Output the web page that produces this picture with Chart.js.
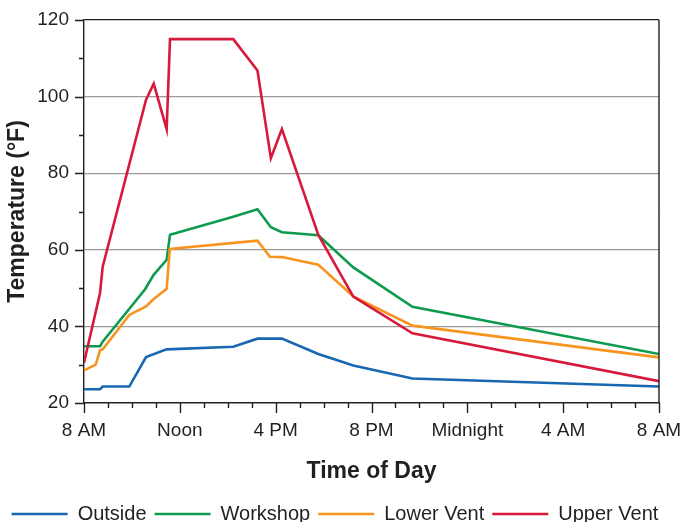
<!DOCTYPE html>
<html>
<head>
<meta charset="utf-8">
<script src="https://cdn.jsdelivr.net/npm/chart.js@4/dist/chart.umd.min.js"></script>
<style>
  html, body { margin: 0; padding: 0; background: #ffffff; }
  #wrap { width: 684px; height: 522px; }
</style>
</head>
<body>
<div id="wrap"><canvas id="c" width="684" height="522"></canvas></div>
<script>
// ---- data (hours after 8 AM, temperature °F) ----
const xTickLabels = ['8 AM', 'Noon', '4 PM', '8 PM', 'Midnight', '4 AM', '8 AM'];
const seriesNames = ['Outside', 'Workshop', 'Lower Vent', 'Upper Vent'];

const outsideHours = [0, 0.67, 0.78, 1.89, 2.59, 3.45, 6.23, 7.24, 8.26, 9.78, 11.24, 13.71, 24];
const outsideTemps = [23.6, 23.6, 24.3, 24.3, 32.0, 34.0, 34.7, 36.8, 36.8, 32.8, 29.8, 26.4, 24.3];

const workshopHours = [0, 0.67, 0.78, 2.55, 2.9, 3.45, 3.59, 6.23, 7.24, 7.8, 8.26, 9.78, 11.24, 13.71, 24];
const workshopTemps = [34.8, 34.8, 36.0, 49.7, 53.4, 57.4, 63.9, 68.6, 70.6, 65.9, 64.6, 63.8, 55.4, 45.1, 32.8];

const lowerVentHours = [0, 0.49, 0.67, 0.78, 1.89, 2.59, 2.9, 3.45, 3.58, 7.24, 7.76, 8.26, 9.78, 11.24, 13.71, 24];
const lowerVentTemps = [28.5, 30.0, 33.8, 34.0, 43.0, 45.2, 47.1, 49.8, 60.2, 62.4, 58.2, 58.1, 56.1, 47.8, 40.2, 31.9];

const upperVentHours = [0, 0.67, 0.78, 2.59, 2.91, 3.45, 3.59, 6.23, 7.24, 7.8, 8.26, 9.78, 11.24, 13.71, 24];
const upperVentTemps = [30.5, 48.7, 55.6, 99.2, 103.4, 91.5, 115, 115, 106.8, 83.9, 91.5, 63.9, 47.8, 38.2, 25.7];

// ---- styling ----
const colors = ['#1767b2', '#0e9a4f', '#f7941e', '#d7193b'];
const textColor = '#231f20';
const clear = 'rgba(0,0,0,0)';
const fontFamily = "'Liberation Sans', Arial, sans-serif";
const PAD_BOTTOM = -12;

function pts(xs, ys) { return xs.map((x, i) => ({ x: x, y: ys[i] })); }

const allHours = [outsideHours, workshopHours, lowerVentHours, upperVentHours];
const allTemps = [outsideTemps, workshopTemps, lowerVentTemps, upperVentTemps];
const drawOrder = [4, 3, 2, 1];

const datasets = seriesNames.map((name, i) => ({
  label: name,
  data: pts(allHours[i], allTemps[i]),
  borderColor: colors[i],
  backgroundColor: colors[i],
  borderWidth: 2.6,
  pointRadius: 0,
  tension: 0,
  fill: false,
  order: drawOrder[i]
}));

// tick marks (major + minor) and right frame, drawn through the chart's scales
const frameTicks = {
  id: 'frameTicks',
  afterDraw(chart) {
    const { ctx, chartArea, scales } = chart;
    const xs = scales.x, ys = scales.y;
    ctx.save();
    ctx.strokeStyle = textColor;
    ctx.lineWidth = 1.4;
    ctx.beginPath();
    for (let h = 0; h <= 24; h++) {
      const px = Math.round(xs.getPixelForValue(h)) + 0.5;
      const len = h % 4 === 0 ? 10 : 5;
      ctx.moveTo(px, chartArea.bottom);
      ctx.lineTo(px, chartArea.bottom + len);
    }
    for (let v = 20; v <= 120; v += 10) {
      const py = Math.round(ys.getPixelForValue(v)) + 0.5;
      const len = v % 20 === 0 ? 9 : 5;
      ctx.moveTo(chartArea.left, py);
      ctx.lineTo(chartArea.left - len, py);
    }
    // right frame
    ctx.moveTo(chartArea.right, chartArea.top);
    ctx.lineTo(chartArea.right, chartArea.bottom);
    ctx.stroke();
    ctx.restore();
  }
};

new Chart(document.getElementById('c'), {
  type: 'line',
  data: { datasets: datasets },
  options: {
    responsive: false,
    animation: false,
    events: [],
    layout: { padding: { top: 0, right: 14, left: 0, bottom: PAD_BOTTOM } },
    plugins: {
      tooltip: { enabled: false },
      legend: {
        position: 'bottom',
        labels: {
          usePointStyle: true,
          pointStyle: 'line',
          pointStyleWidth: 56,
          padding: 8,
          color: textColor,
          font: { family: fontFamily, size: 20 },
          sort: (a, b) => a.datasetIndex - b.datasetIndex
        }
      }
    },
    scales: {
      x: {
        type: 'linear',
        min: 0,
        max: 24,
        afterFit(scale) {
          const lg = scale.chart.legend;
          scale.height = 522 - 403 - (lg ? lg.height : 0) - PAD_BOTTOM;
          scale.paddingRight = 25;
        },
        grid: { display: true, drawOnChartArea: false, drawTicks: true, tickLength: 16, color: clear, tickColor: clear },
        border: { display: true, color: textColor, width: 1.4 },
        ticks: {
          stepSize: 4,
          autoSkip: false,
          maxRotation: 0,
          padding: 0,
          color: textColor,
          font: { family: fontFamily, size: 19 },
          callback: (v) => xTickLabels[Math.round(v / 4)]
        },
        title: {
          display: true,
          text: 'Time of Day',
          color: textColor,
          font: { family: fontFamily, size: 23, weight: 'bold' },
          padding: { top: 4, bottom: 11 }
        }
      },
      y: {
        min: 20,
        max: 120,
        afterFit(scale) { scale.width = 84; scale.paddingTop = 20; },
        grid: {
          drawTicks: true,
          tickLength: 15,
          tickColor: clear,
          lineWidth: 1.3,
          color: (ctx) => {
            const v = ctx.tick ? ctx.tick.value : 0;
            if (v === 120) return textColor;
            if (v === 20) return clear;
            return '#9a9a9a';
          }
        },
        border: { display: true, color: textColor, width: 1.4 },
        ticks: {
          stepSize: 20,
          padding: 0,
          color: textColor,
          font: { family: fontFamily, size: 19 }
        },
        title: {
          display: true,
          text: 'Temperature (°F)',
          color: textColor,
          font: { family: fontFamily, size: 23, weight: 'bold' },
          padding: { top: 4, bottom: 4 }
        }
      }
    }
  },
  plugins: [frameTicks]
});
</script>
</body>
</html>
